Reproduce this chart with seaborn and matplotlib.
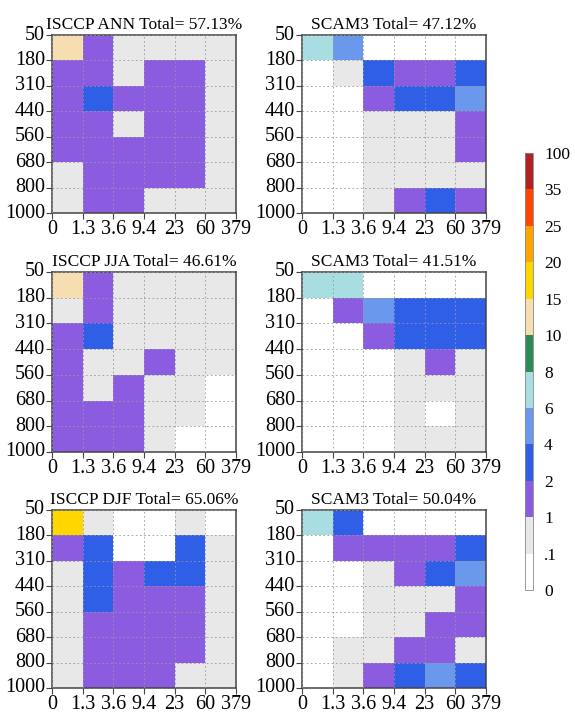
import numpy as np
import pandas as pd
import matplotlib
matplotlib.use("Agg")
import matplotlib.pyplot as plt
from matplotlib.colors import ListedColormap, BoundaryNorm
import seaborn as sns

# ---- data ----
tau_labels = ["0", "1.3", "3.6", "9.4", "23", "60", "379"]
pres_labels = ["50", "180", "310", "440", "560", "680", "800", "1000"]

level_bounds = [0, 0.1, 1, 2, 4, 6, 8, 10, 15, 20, 25, 35, 100]
level_labels = ["0", ".1", "1", "2", "4", "6", "8", "10", "15", "20", "25", "35", "100"]
level_colors = ["#ffffff", "#e8e8e8", "#8b5ce0", "#2f5fe6", "#6a98ec", "#a8dde2",
                "#2e8b57", "#f6deb0", "#ffd700", "#ffa500", "#ff4500", "#b22222"]

titles = ["ISCCP ANN Total= 57.13%", "SCAM3 Total= 47.12%",
          "ISCCP JJA Total= 46.61%", "SCAM3 Total= 41.51%",
          "ISCCP DJF Total= 65.06%", "SCAM3 Total= 50.04%"]

isccp_ann = [
    [12.3, 1.4, 0.6, 0.7, 0.8, 0.5],
    [1.6, 1.8, 0.9, 1.3, 1.5, 0.6],
    [1.7, 2.4, 1.5, 1.6, 1.4, 0.5],
    [1.5, 1.6, 0.9, 1.4, 1.3, 0.4],
    [1.4, 1.5, 1.2, 1.6, 1.5, 0.4],
    [0.8, 1.3, 1.4, 1.5, 1.2, 0.3],
    [0.9, 1.5, 1.6, 0.9, 0.7, 0.3],
]
scam3_ann = [
    [7.2, 4.6, 0.05, 0.03, 0.02, 0.01],
    [0.05, 0.3, 2.8, 1.7, 1.9, 3.1],
    [0.04, 0.08, 1.6, 3.4, 3.2, 4.4],
    [0.02, 0.05, 0.6, 0.8, 0.9, 1.5],
    [0.02, 0.04, 0.5, 0.7, 0.8, 1.6],
    [0.02, 0.03, 0.4, 0.6, 0.7, 0.9],
    [0.01, 0.02, 0.5, 1.3, 2.6, 1.4],
]
isccp_jja = [
    [11.6, 1.3, 0.6, 0.5, 0.4, 0.3],
    [0.8, 1.5, 0.7, 0.5, 0.4, 0.3],
    [1.3, 2.2, 0.9, 0.6, 0.5, 0.2],
    [1.4, 0.9, 0.8, 1.1, 0.6, 0.2],
    [1.5, 0.8, 1.2, 0.9, 0.5, 0.08],
    [1.6, 1.4, 1.3, 0.7, 0.3, 0.07],
    [1.8, 1.7, 1.5, 0.6, 0.09, 0.05],
]
scam3_jja = [
    [6.8, 6.3, 0.04, 0.03, 0.02, 0.01],
    [0.05, 1.5, 4.3, 3.5, 3.1, 3.3],
    [0.03, 0.07, 1.7, 3.6, 3.4, 3.0],
    [0.02, 0.03, 0.08, 0.6, 1.2, 0.7],
    [0.01, 0.02, 0.06, 0.4, 0.5, 0.6],
    [0.01, 0.02, 0.05, 0.3, 0.09, 0.4],
    [0.01, 0.01, 0.04, 0.3, 0.4, 0.5],
]
isccp_djf = [
    [16.8, 0.7, 0.08, 0.06, 0.3, 0.09],
    [1.7, 2.6, 0.07, 0.09, 2.3, 0.6],
    [0.8, 3.1, 1.6, 2.4, 2.7, 0.7],
    [0.7, 2.8, 1.8, 1.5, 1.6, 0.6],
    [0.6, 1.9, 1.7, 1.8, 1.5, 0.5],
    [0.5, 1.8, 1.9, 1.7, 1.3, 0.4],
    [0.6, 1.6, 1.8, 1.5, 0.6, 0.3],
]
scam3_djf = [
    [7.5, 3.2, 0.05, 0.03, 0.02, 0.01],
    [0.06, 1.5, 1.7, 1.6, 1.8, 3.3],
    [0.03, 0.07, 0.6, 1.4, 3.0, 4.6],
    [0.02, 0.05, 0.5, 0.7, 0.8, 1.7],
    [0.02, 0.04, 0.4, 0.6, 1.3, 1.5],
    [0.01, 0.3, 0.5, 1.4, 1.6, 0.9],
    [0.01, 0.4, 1.6, 2.7, 4.5, 3.1],
]

panels = [isccp_ann, scam3_ann, isccp_jja, scam3_jja, isccp_djf, scam3_djf]

# ---- style ----
plt.rcParams["font.family"] = ["Liberation Serif", "DejaVu Serif"]

cmap = ListedColormap(level_colors)
norm = BoundaryNorm(level_bounds, cmap.N)

fig = plt.figure(figsize=(5.75, 7.15), dpi=100)

W, H = 575.0, 715.0
col_x = [52, 302]
col_w = 184
row_y = [(35, 213), (272, 452), (510, 688)]

for i, data in enumerate(panels):
    r, c = divmod(i, 2)
    top, bot = row_y[r]
    ax = fig.add_axes([col_x[c] / W, 1 - bot / H, col_w / W, (bot - top) / H])
    df = pd.DataFrame(data, index=pres_labels[:-1], columns=tau_labels[:-1])
    sns.heatmap(df, ax=ax, cmap=cmap, norm=norm, cbar=False, linewidths=0)
    ax.set_xticks(np.arange(len(tau_labels)))
    ax.set_xticklabels(tau_labels, rotation=0, fontsize=14.5)
    ax.set_yticks(np.arange(len(pres_labels)))
    ax.set_yticklabels(pres_labels, rotation=0, fontsize=14.5)
    ax.set_xlabel("")
    ax.set_ylabel("")
    ax.tick_params(axis="both", length=4, width=0.8, color="#444444", pad=1)
    for s in ax.spines.values():
        s.set_visible(True)
        s.set_color("#444444")
        s.set_linewidth(1.1)
    ax.grid(True, linestyle=(0, (2, 3)), color="#999999", linewidth=0.6)
    ax.set_axisbelow(False)
    ax.set_title(titles[i], fontsize=12.5, pad=4)

# ---- colorbar ----
cax = fig.add_axes([525 / W, 1 - 590 / H, 8 / W, 437 / H])
sm = matplotlib.cm.ScalarMappable(norm=norm, cmap=cmap)
cb = fig.colorbar(sm, cax=cax, spacing="uniform")
cb.set_ticks(level_bounds)
cb.set_ticklabels(level_labels)
cb.ax.tick_params(length=0, labelsize=12.5, pad=8)
cb.outline.set_edgecolor("#888888")
cb.outline.set_linewidth(0.6)

fig.savefig("out.png", dpi=100)
